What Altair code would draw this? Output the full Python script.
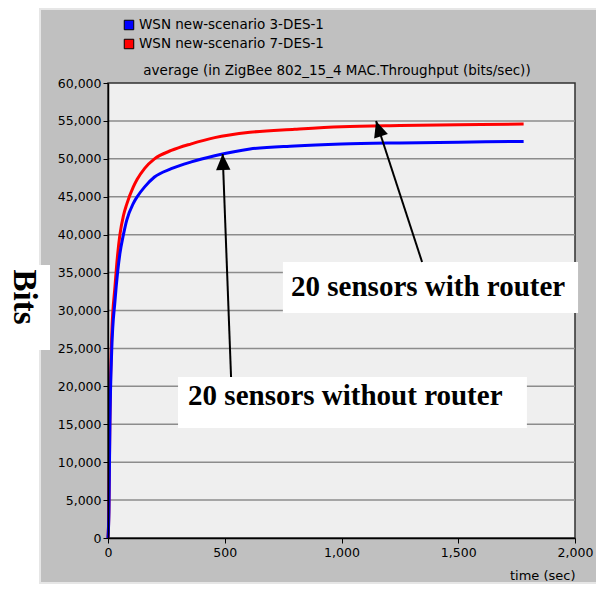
import math
import altair as alt
import pandas as pd

# ---- data ----
times = [0, 4, 8, 16, 30, 41, 51, 66, 80, 108, 125, 157, 199, 271, 357, 457, 608, 800, 1000, 1250, 1500, 1780]
blue_vals = [0, 3500, 14500, 24800, 31300, 35000, 37500, 40000, 41900, 44100, 45000, 46300, 47600,
             48700, 49600, 50400, 51300, 51700, 51950, 52100, 52200, 52300]
red_vals = [0, 4000, 15500, 26800, 33200, 37300, 40000, 42500, 44000, 46260, 47300, 48750, 50000,
            51100, 51980, 52800, 53500, 53900, 54240, 54400, 54500, 54590]
series_names = ["WSN new-scenario 3-DES-1", "WSN new-scenario 7-DES-1"]
series_colors = ["#0000ff", "#ff0000"]

x_ticks = [0, 500, 1000, 1500, 2000]
y_ticks = [0, 5000, 10000, 15000, 20000, 25000, 30000, 35000, 40000, 45000, 50000, 55000, 60000]
grid_vals = [5000, 10000, 15000, 20000, 25000, 30000, 35000, 40000, 45000, 50000, 55000]

ann_text = ["20 sensors with router", "20 sensors without router"]
box_t0 = [749, 300]
box_t1 = [2013, 1794]
box_v0 = [29670, 14500]
box_v1 = [36400, 21230]
text_t = [784, 343]
text_v = [31910, 17540]
tail_t = [1345, 527]
tail_v = [36400, 21230]
tip_t = [1148, 491]
tip_v = [54990, 50640]

title_text = "average (in ZigBee 802_15_4 MAC.Throughput (bits/sec))"

W, H = 467, 455
XMAX, YMAX = 2000, 60000

# ---- tables ----
lines = pd.DataFrame({
    "time": times + times,
    "value": blue_vals + red_vals,
    "series": [series_names[0]] * len(times) + [series_names[1]] * len(times),
})
grid = pd.DataFrame({"value": grid_vals})
ann = pd.DataFrame({
    "text": ann_text, "bt0": box_t0, "bt1": box_t1, "bv0": box_v0, "bv1": box_v1,
    "tt": text_t, "tv": text_v, "at": tail_t, "av": tail_v, "pt": tip_t, "pv": tip_v,
})
ann["ang"] = [
    math.degrees(math.atan2((p - a) * W / XMAX, (pv - av) * H / YMAX)) % 360
    for a, av, p, pv in zip(tail_t, tail_v, tip_t, tip_v)
]
one = pd.DataFrame({"a": [0]})

xs = alt.Scale(domain=[0, XMAX], nice=False)
ys = alt.Scale(domain=[0, YMAX], nice=False)
sscale = alt.Scale(domain=series_names, range=series_colors)

x_axis = alt.Axis(
    values=x_ticks, format=",d", title="time (sec)", titleAnchor="end",
    grid=False, zindex=1, labelFlush=False, labelOverlap=False, tickSize=5, labelPadding=3,
    titlePadding=11, domainWidth=1.5, titleFontSize=13)
y_axis = alt.Axis(
    values=y_ticks, tickCount=13, format=",d", title=None, grid=False, zindex=1,
    labelOverlap=False, labelBound=False, labelSeparation=0,
    tickSize=5, labelPadding=2, domainWidth=1.5, labelFlush=False)

panel = alt.Chart(one).mark_rect(fill="#c0c0c0", stroke="#e6e6e6", strokeWidth=2).encode(
    x=alt.value(-68), x2=alt.value(500), y=alt.value(-74), y2=alt.value(500)
)
plotbg = alt.Chart(one).mark_rect(fill="#efefef", stroke="#303030", strokeWidth=1.5).encode(
    x=alt.value(0), x2=alt.value(W), y=alt.value(0), y2=alt.value(H)
)
gridlines = alt.Chart(grid).mark_rule(color="#8c8c8c", strokeWidth=1.5).encode(
    y=alt.Y("value:Q", scale=ys, axis=y_axis)
)


def series_line(name):
    return alt.Chart(lines).transform_filter(
        alt.datum.series == name
    ).mark_line(strokeWidth=3, interpolate="monotone").encode(
        x=alt.X("time:Q", scale=xs, axis=x_axis),
        y=alt.Y("value:Q", scale=ys, axis=y_axis),
        stroke=alt.Stroke("series:N", scale=sscale, legend=None),
    )


red_line = series_line(series_names[1])
blue_line = series_line(series_names[0])

# legend, drawn above the plot like the original
legend_layers = []
for i, name in enumerate(series_names):
    row = pd.DataFrame({"series": [name]})
    legend_layers.append(
        alt.Chart(row).mark_square(size=90, filled=True, opacity=1, stroke="black", strokeWidth=1)
        .encode(x=alt.value(21), y=alt.value(-58 + 19 * i),
                fill=alt.Fill("series:N", scale=sscale, legend=None))
    )
    legend_layers.append(
        alt.Chart(row).mark_text(align="left", baseline="middle", font="DejaVu Sans",
                                 fontSize=13.5, color="black")
        .encode(x=alt.value(31), y=alt.value(-58 + 19 * i), text="series:N")
    )

title_mark = alt.Chart(one).mark_text(
    text=title_text, font="DejaVu Sans", fontSize=13.5, color="black",
    align="center", baseline="middle"
).encode(x=alt.value(229), y=alt.value(-12))

boxes = alt.Chart(ann).mark_rect(fill="white").encode(
    x=alt.X("bt0:Q", scale=xs), x2="bt1:Q", y=alt.Y("bv0:Q", scale=ys), y2="bv1:Q"
)
shafts = alt.Chart(ann).mark_rule(color="black", strokeWidth=2).encode(
    x=alt.X("at:Q", scale=xs), y=alt.Y("av:Q", scale=ys), x2="pt:Q", y2="pv:Q"
)
heads = alt.Chart(ann).mark_point(
    shape="M0,0L-0.9,2L0.9,2Z", size=256, filled=True, color="black", opacity=1
).encode(x=alt.X("pt:Q", scale=xs), y=alt.Y("pv:Q", scale=ys),
         angle=alt.Angle("ang:Q", scale=None))
labels = alt.Chart(ann).mark_text(
    align="left", baseline="alphabetic", font="Liberation Serif",
    fontWeight="bold", fontSize=29, color="black"
).encode(x=alt.X("tt:Q", scale=xs), y=alt.Y("tv:Q", scale=ys), text="text:N")

bits_box = alt.Chart(one).mark_rect(fill="white").encode(
    x=alt.value(-100), x2=alt.value(-58), y=alt.value(182), y2=alt.value(267)
)
bits_text = alt.Chart(one).mark_text(
    text="Bits", angle=90, font="Liberation Serif", fontWeight="bold",
    fontSize=33, align="center", baseline="middle", color="black"
).encode(x=alt.value(-84), y=alt.value(214))

chart = alt.layer(
    panel, plotbg, gridlines, red_line, blue_line, *legend_layers, title_mark,
    boxes, shafts, heads, labels, bits_box, bits_text
).properties(
    width=W, height=H,
    padding={"left": 100, "top": 75, "right": 21, "bottom": 46},
    autosize=alt.AutoSizeParams(type="none"),
).configure_view(stroke=None).configure_axis(
    labelFont="DejaVu Sans", labelFontSize=12.5, labelColor="black",
    titleFont="DejaVu Sans", titleFontSize=13, titleFontWeight="normal", titleColor="black",
    domainColor="black", tickColor="black", labelOverlap=False,
).configure_axisY(labelOverlap=False)

chart.save("out.html", embed_options={"renderer": "svg", "actions": False})
